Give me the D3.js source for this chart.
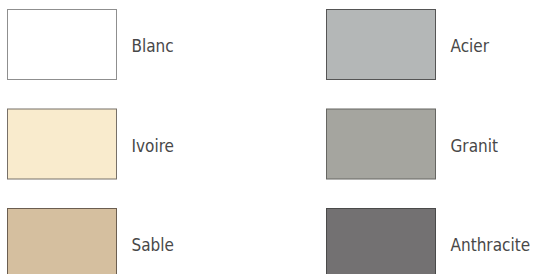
<!DOCTYPE html>
<html lang="fr">
<head>
    <meta charset="UTF-8">
    <title>Coloris</title>
    <style>
        body {
            margin: 0;
            background: #fff;
            overflow: hidden;
        }
        svg {
            display: block;
        }
        .label {
            font-family: 'DejaVu Sans Condensed', 'DejaVu Sans', sans-serif;
            font-size: 17px;
            fill: #484848;
        }
    </style>
</head>
<body>
    <svg width="534" height="274"></svg>
    <script src="https://d3js.org/d3.v7.min.js"></script>
    <script>
        // Swatch names and colours, column by column.
        const names = ["Blanc", "Ivoire", "Sable", "Acier", "Granit", "Anthracite"];
        const fills = ["#ffffff", "#f9ebcd", "#d5bf9f", "#b4b7b7", "#a5a59f", "#737172"];
        const strokes = ["#8f8f8f", "#777068", "#6b5e50", "#555555", "#666662", "#4a4a4a"];
        const columns = [0, 0, 0, 1, 1, 1];
        const rows = [0, 1, 2, 0, 1, 2];

        const svg = d3.select("svg");

        const swatchW = 109;
        const swatchH = 70;

        // Column and row positions.
        const x = d3.scaleLinear().domain([0, 1]).range([7.5, 326.5]);
        const y = d3.scaleLinear().domain([0, 2]).range([9.5, 208.5]);

        const data = names.map((n, i) => ({
            name: n, fill: fills[i], stroke: strokes[i], col: columns[i], row: rows[i]
        }));

        const g = svg.selectAll("g.swatch")
            .data(data)
            .join("g")
            .attr("class", "swatch")
            .attr("transform", d => `translate(${x(d.col)},${y(d.row)})`);

        g.append("rect")
            .attr("width", swatchW)
            .attr("height", swatchH)
            .attr("fill", d => d.fill)
            .attr("stroke", d => d.stroke)
            .attr("stroke-width", 1);

        g.append("text")
            .attr("class", "label")
            .attr("x", swatchW + 15)
            .attr("y", swatchH / 2 + 7.5)
            .text(d => d.name);
    </script>
</body>
</html>
